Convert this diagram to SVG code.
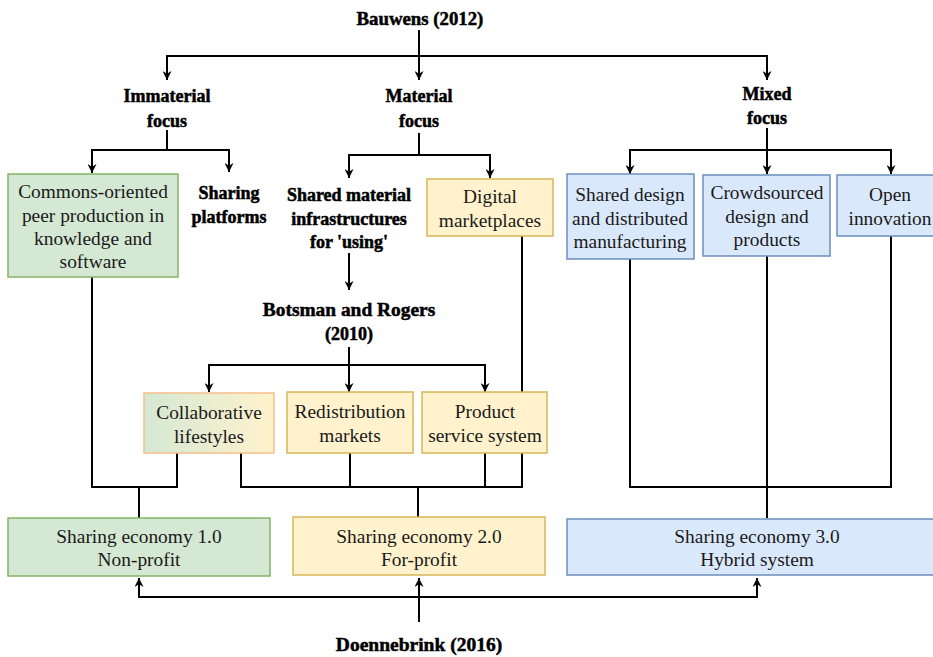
<svg xmlns="http://www.w3.org/2000/svg" width="933" height="657" viewBox="0 0 933 657">
  <defs>
    <marker id="arrow" viewBox="0 0 10 10" refX="10" refY="5" markerWidth="9" markerHeight="9" markerUnits="userSpaceOnUse" orient="auto">
      <path d="M0,0 L10,5 L0,10 L3,5 z" fill="#000"/>
    </marker>
    <linearGradient id="greenToYellow" x1="0" y1="0" x2="1" y2="0">
      <stop offset="0" stop-color="#d5e8d4"/>
      <stop offset="1" stop-color="#fff2cc"/>
    </linearGradient>
    <style>
      .box-text { font-family: "Liberation Serif", "Times New Roman", serif; font-size: 19.4px; fill: #1a1a1a; text-anchor: middle; }
      .head { font-family: "Liberation Serif", "Times New Roman", serif; font-size: 18px; font-weight: bold; fill: #000; stroke: #000; stroke-width: 0.5; text-anchor: middle; }
      .green { fill: #d5e8d4; stroke: #82b366; stroke-width: 1.5; }
      .yellow { fill: #fff2cc; stroke: #d6b656; stroke-width: 1.5; }
      .blue { fill: #dae8fc; stroke: #6c8ebf; stroke-width: 1.5; }
      .mixed { fill: url(#greenToYellow); stroke: #f5bf8a; stroke-width: 1.5; }
      .edge { fill: none; stroke: #000; stroke-width: 2; }
      .edge-arrow { fill: none; stroke: #000; stroke-width: 2; marker-end: url(#arrow); }
    </style>
  </defs>
  <rect width="933" height="657" fill="#fff"/>

  <!-- connectors -->
  <g id="connectors">
    <path class="edge-arrow" d="M419,30 V56 H167 V80"/>
    <path class="edge-arrow" d="M419,56 V80"/>
    <path class="edge-arrow" d="M419,56 H767 V80"/>

    <path class="edge-arrow" d="M167,130 V150 H92 V173"/>
    <path class="edge-arrow" d="M167,150 H229 V172"/>

    <path class="edge-arrow" d="M419,133 V155 H349 V178"/>
    <path class="edge-arrow" d="M419,155 H490 V178"/>

    <path class="edge-arrow" d="M767,128 V150 H630 V174"/>
    <path class="edge-arrow" d="M767,150 V174"/>
    <path class="edge-arrow" d="M767,150 H891 V174"/>

    <path class="edge-arrow" d="M349,253 V290"/>

    <path class="edge-arrow" d="M349,347 V365 H209 V392"/>
    <path class="edge-arrow" d="M349,365 V392"/>
    <path class="edge-arrow" d="M349,365 H485 V392"/>

    <path class="edge" d="M92,277 V487 H177 V453"/>
    <path class="edge" d="M139,487 V518"/>
    <path class="edge" d="M241,453 V487 H522 V236"/>
    <path class="edge" d="M350,453 V487"/>
    <path class="edge" d="M485,453 V487"/>
    <path class="edge" d="M418,487 V517"/>
    <path class="edge" d="M630,259 V487 H891 V236"/>
    <path class="edge" d="M767,256 V518"/>

    <path class="edge-arrow" d="M419,622 V578"/>
    <path class="edge-arrow" d="M419,597 H139 V578"/>
    <path class="edge-arrow" d="M419,597 H757 V578"/>
  </g>

  <!-- headings -->
  <g id="bauwens"><text class="head" x="420" y="25" style="font-size:18.8px">Bauwens (2012)</text></g>
  <g id="immaterial-focus">
    <text class="head" x="167" y="102">Immaterial</text>
    <text class="head" x="167" y="127">focus</text>
  </g>
  <g id="material-focus">
    <text class="head" x="419" y="102">Material</text>
    <text class="head" x="419" y="127">focus</text>
  </g>
  <g id="mixed-focus">
    <text class="head" x="767" y="100">Mixed</text>
    <text class="head" x="767" y="124">focus</text>
  </g>
  <g id="sharing-platforms">
    <text class="head" x="229" y="199">Sharing</text>
    <text class="head" x="229" y="223">platforms</text>
  </g>
  <g id="shared-material">
    <text class="head" x="349" y="201">Shared material</text>
    <text class="head" x="349" y="225">infrastructures</text>
    <text class="head" x="349" y="248">for 'using'</text>
  </g>
  <g id="botsman">
    <text class="head" x="349" y="316" style="font-size:19.4px">Botsman and Rogers</text>
    <text class="head" x="349" y="340">(2010)</text>
  </g>
  <g id="doennebrink"><text class="head" x="419" y="651" style="font-size:19.5px">Doennebrink (2016)</text></g>

  <!-- immaterial branch -->
  <g id="commons">
    <rect class="green" x="8" y="174" width="170" height="103"/>
    <text class="box-text" x="93" y="198">Commons-oriented</text>
    <text class="box-text" x="93" y="222">peer production in</text>
    <text class="box-text" x="93" y="245">knowledge and</text>
    <text class="box-text" x="93" y="268">software</text>
  </g>

  <!-- material branch -->
  <g id="digital-marketplaces">
    <rect class="yellow" x="427" y="179" width="126" height="57"/>
    <text class="box-text" x="490" y="203">Digital</text>
    <text class="box-text" x="490" y="227">marketplaces</text>
  </g>
  <g id="collaborative-lifestyles">
    <rect class="mixed" x="144" y="393" width="130" height="60"/>
    <text class="box-text" x="209" y="419">Collaborative</text>
    <text class="box-text" x="209" y="443">lifestyles</text>
  </g>
  <g id="redistribution-markets">
    <rect class="yellow" x="287" y="392" width="126" height="61"/>
    <text class="box-text" x="350" y="418">Redistribution</text>
    <text class="box-text" x="350" y="442">markets</text>
  </g>
  <g id="product-service-system">
    <rect class="yellow" x="422" y="392" width="125" height="61"/>
    <text class="box-text" x="485" y="418">Product</text>
    <text class="box-text" x="485" y="442">service system</text>
  </g>

  <!-- mixed branch -->
  <g id="shared-design">
    <rect class="blue" x="567" y="174" width="127" height="85"/>
    <text class="box-text" x="630" y="201">Shared design</text>
    <text class="box-text" x="630" y="225">and distributed</text>
    <text class="box-text" x="630" y="248">manufacturing</text>
  </g>
  <g id="crowdsourced">
    <rect class="blue" x="703" y="175" width="127" height="81"/>
    <text class="box-text" x="767" y="199">Crowdsourced</text>
    <text class="box-text" x="767" y="223">design and</text>
    <text class="box-text" x="767" y="246">products</text>
  </g>
  <g id="open-innovation">
    <rect class="blue" x="837" y="175" width="110" height="61"/>
    <text class="box-text" x="890" y="201">Open</text>
    <text class="box-text" x="890" y="225">innovation</text>
  </g>

  <!-- sharing economy generations -->
  <g id="sharing-economy-1">
    <rect class="green" x="8" y="518" width="262" height="58"/>
    <text class="box-text" x="139" y="543">Sharing economy 1.0</text>
    <text class="box-text" x="139" y="566">Non-profit</text>
  </g>
  <g id="sharing-economy-2">
    <rect class="yellow" x="293" y="517" width="252" height="58"/>
    <text class="box-text" x="419" y="543">Sharing economy 2.0</text>
    <text class="box-text" x="419" y="566">For-profit</text>
  </g>
  <g id="sharing-economy-3">
    <rect class="blue" x="567" y="519" width="380" height="56"/>
    <text class="box-text" x="757" y="543">Sharing economy 3.0</text>
    <text class="box-text" x="757" y="566">Hybrid system</text>
  </g>
</svg>
